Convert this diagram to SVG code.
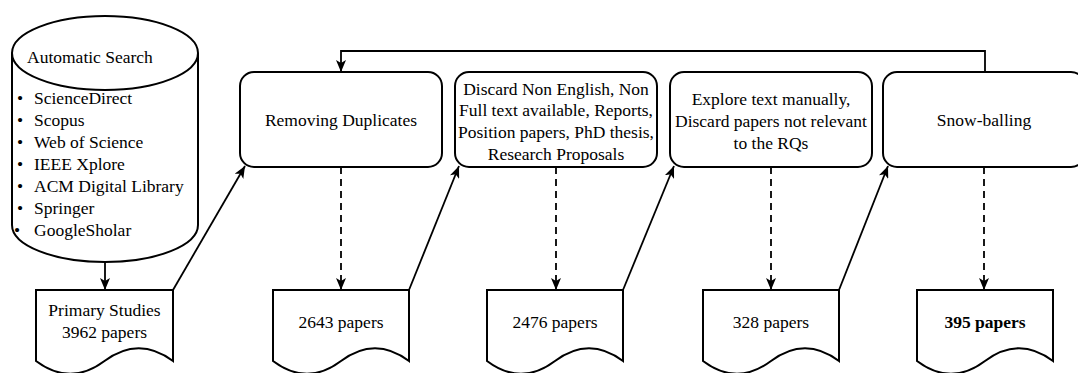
<svg xmlns="http://www.w3.org/2000/svg" width="1078" height="373" viewBox="0 0 1078 373">
<style>
.shape{fill:#fff;stroke:#000;stroke-width:2}
.t{font-family:"Liberation Serif","Times New Roman",serif;font-size:17.5px;fill:#000}
.c{text-anchor:middle}
.b{font-weight:bold}
.conn{fill:none;stroke:#000;stroke-width:1.8}
.dash{stroke-dasharray:7 5}
</style>
<defs>
<marker id="arr" viewBox="0 0 12 10" refX="12" refY="5" markerWidth="12" markerHeight="10" markerUnits="userSpaceOnUse" orient="auto">
<path d="M0,0 L12,5 L0,10 L3,5 Z" fill="#000" stroke="none"/>
</marker>
</defs>
<rect width="1078" height="373" fill="#fff"/>

<g id="search">
<path class="shape" d="M12,53 A93,37 0 0 1 198,53 V225 A93,37 0 0 1 12,225 Z"/>
<path class="shape" fill="none" d="M12,53 A93,37 0 0 0 198,53"/>
<text class="t" x="27" y="63">Automatic Search</text>
<text class="t"><tspan x="17" y="104">•</tspan><tspan x="34" y="104">ScienceDirect</tspan></text>
<text class="t"><tspan x="17" y="126">•</tspan><tspan x="34" y="126">Scopus</tspan></text>
<text class="t"><tspan x="17" y="148">•</tspan><tspan x="34" y="148">Web of Science</tspan></text>
<text class="t"><tspan x="17" y="170">•</tspan><tspan x="34" y="170">IEEE Xplore</tspan></text>
<text class="t"><tspan x="17" y="192">•</tspan><tspan x="34" y="192">ACM Digital Library</tspan></text>
<text class="t"><tspan x="17" y="214">•</tspan><tspan x="34" y="214">Springer</tspan></text>
<text class="t"><tspan x="14" y="236">•</tspan><tspan x="34" y="236">GoogleSholar</tspan></text>
</g>

<g id="box-duplicates">
<rect class="shape" x="240" y="72" width="202" height="95" rx="14"/>
<text class="t c" x="341" y="126">Removing Duplicates</text>
</g>
<g id="box-discard">
<rect class="shape" x="455" y="72" width="202" height="95" rx="14"/>
<text class="t c" x="556"><tspan x="556" y="94.5">Discard Non English, Non</tspan><tspan x="556" y="116.2">Full text available, Reports,</tspan><tspan x="556" y="137.9">Position papers, PhD thesis,</tspan><tspan x="556" y="159.6">Research Proposals</tspan></text>
</g>
<g id="box-explore">
<rect class="shape" x="670" y="72" width="202" height="95" rx="14"/>
<text class="t c" x="771"><tspan x="771" y="105.3">Explore text manually,</tspan><tspan x="771" y="127">Discard papers not relevant</tspan><tspan x="771" y="148.7">to the RQs</tspan></text>
</g>
<g id="box-snow">
<rect class="shape" x="883" y="72" width="202" height="95" rx="14"/>
<text class="t c" x="984" y="126">Snow-balling</text>
</g>

<g id="doc-primary">
<path class="shape" d="M36,290 H173 V361 Q138.75,335.5 104.5,361 Q70.25,386.5 36,361 Z"/>
<text class="t c"><tspan x="104.5" y="316">Primary Studies</tspan><tspan x="104.5" y="337.5">3962 papers</tspan></text>
</g>
<g id="doc-2643">
<path class="shape" d="M273,290 H409 V361 Q375,335.5 341,361 Q307,386.5 273,361 Z"/>
<text class="t c" x="341" y="327.5">2643 papers</text>
</g>
<g id="doc-2476">
<path class="shape" d="M487,290 H623 V361 Q589,335.5 555,361 Q521,386.5 487,361 Z"/>
<text class="t c" x="555" y="327.5">2476 papers</text>
</g>
<g id="doc-328">
<path class="shape" d="M703,290 H839 V361 Q805,335.5 771,361 Q737,386.5 703,361 Z"/>
<text class="t c" x="771" y="327.5">328 papers</text>
</g>
<g id="doc-395">
<path class="shape" d="M917,290 H1053 V361 Q1019,335.5 985,361 Q951,386.5 917,361 Z"/>
<text class="t c b" x="985" y="327.5">395 papers</text>
</g>

<g id="connectors">
<path class="conn" d="M105,262 V290" marker-end="url(#arr)"/>
<path class="conn" d="M173,290 L245,166" marker-end="url(#arr)"/>
<path class="conn" d="M409,290 L459,166" marker-end="url(#arr)"/>
<path class="conn" d="M623,290 L674,166" marker-end="url(#arr)"/>
<path class="conn" d="M839,290 L888,166" marker-end="url(#arr)"/>
<path class="conn dash" d="M341,167 V290" marker-end="url(#arr)"/>
<path class="conn dash" d="M556,167 V290" marker-end="url(#arr)"/>
<path class="conn dash" d="M771,167 V290" marker-end="url(#arr)"/>
<path class="conn dash" d="M984,167 V290" marker-end="url(#arr)"/>
<path class="conn" d="M985,72 V51 H341 V72" marker-end="url(#arr)"/>
</g>
</svg>
